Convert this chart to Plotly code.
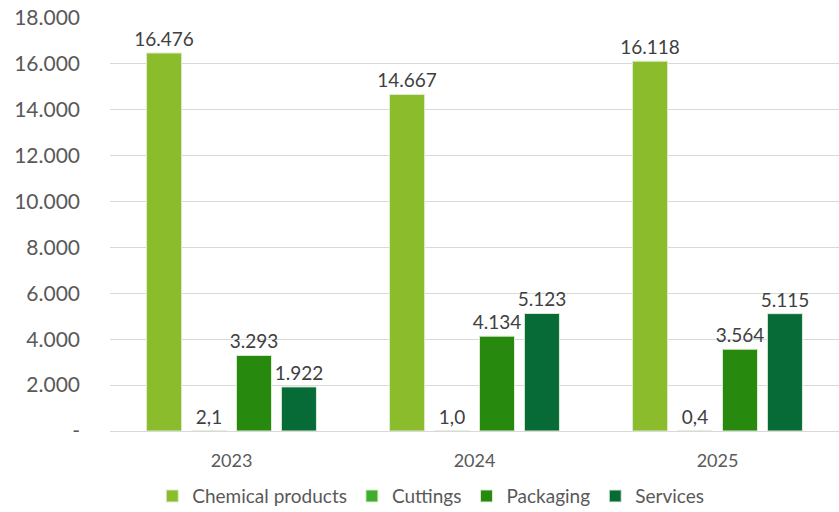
import plotly.graph_objects as go

years = ["2023", "2024", "2025"]
chemical = [16476, 14667, 16118]
cuttings = [2.1, 1.0, 0.4]
packaging = [3293, 4134, 3564]
services = [1922, 5123, 5115]

y_ticks = [0, 2000, 4000, 6000, 8000, 10000, 12000, 14000, 16000, 18000]
y_ticktext = ["-", "2.000", "4.000", "6.000", "8.000", "10.000", "12.000", "14.000", "16.000", "18.000"]

series = [
    ("Chemical products", chemical, "#8BBC2B", "%{y:,.0f}"),
    ("Cuttings", cuttings, "#3FAE2A", "%{y:.1f}"),
    ("Packaging", packaging, "#28890F", "%{y:,.0f}"),
    ("Services", services, "#066B37", "%{y:,.0f}"),
]

FONT = "Lato, Carlito, Calibri, sans-serif"

fig = go.Figure()
for name, vals, color, tpl in series:
    fig.add_trace(go.Bar(x=years, y=vals, name=name,
                         marker=dict(color=color, line=dict(color="#DDEBD0", width=1)),
                         texttemplate=tpl, textposition="outside", constraintext="none",
                         textfont=dict(family=FONT, size=19, color="#404040"),
                         cliponaxis=False))

fig.update_layout(
    width=839, height=512,
    template="simple_white",
    separators=",.",
    barmode="group", bargap=0.26, bargroupgap=0.22,
    margin=dict(l=110, r=0, t=18, b=81),
    font=dict(family=FONT, size=18, color="#595959"),
    legend=dict(orientation="h", x=0.44, xanchor="center",
                yref="container", y=0.031, yanchor="middle",
                font=dict(family=FONT, size=19, color="#595959"),
                itemwidth=30, tracegroupgap=0),
    plot_bgcolor="white", paper_bgcolor="white",
)
fig.update_xaxes(showline=True, linecolor="#D9D9D9", linewidth=1, ticks="",
                 ticklabelstandoff=13, automargin=False,
                 tickfont=dict(family=FONT, size=18, color="#595959"))
fig.update_yaxes(range=[0, 18000], tickvals=y_ticks, ticktext=y_ticktext,
                 showgrid=True, gridcolor="#D9D9D9", gridwidth=1,
                 showline=False, ticks="", zeroline=False, ticklabelstandoff=29,
                 automargin=False,
                 tickfont=dict(family=FONT, size=21, color="#595959"))

# drop the browser's default body margin so the figure sits at the page origin
fig.write_html("out.html", config={"displayModeBar": False},
               post_script="document.body.style.margin='0';")
